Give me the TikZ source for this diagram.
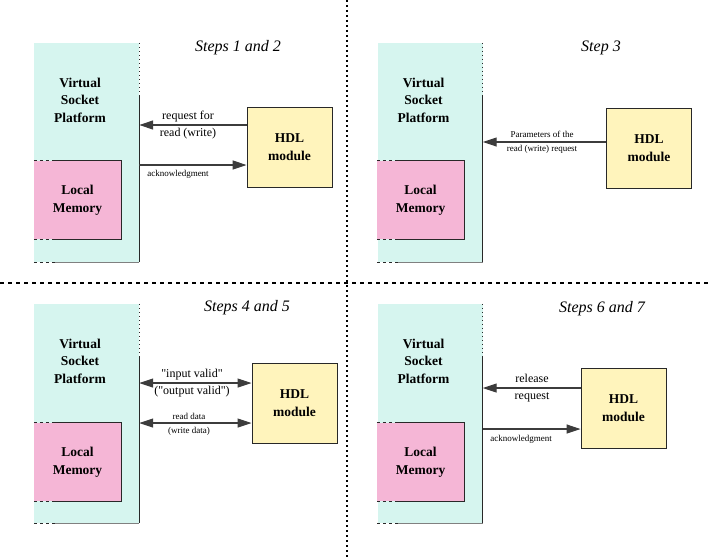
\documentclass[tikz,border=0pt]{standalone}
\usepackage{fontspec}
\setmainfont{Liberation Serif}[Ligatures=TeXOff]
\usepackage{tikz}
\usetikzlibrary{arrows.meta}

\definecolor{vspcol}{RGB}{214,245,239}
\definecolor{lmcol}{RGB}{245,182,214}
\definecolor{hdlcol}{RGB}{255,244,188}
\definecolor{edgecol}{RGB}{40,40,40}
\definecolor{sigcol}{RGB}{60,60,60}

\tikzset{
  vsp/.style={fill=vspcol, inner sep=0pt, minimum width=105pt, minimum height=219pt},
  vsptext/.style={font=\bfseries\fontsize{13.5}{17.5}\selectfont, align=center},
  lmem/.style={fill=lmcol, inner sep=0pt, minimum width=87pt, minimum height=78pt,
    font=\bfseries\fontsize{13.5}{18}\selectfont, align=center},
  hdl/.style={draw=edgecol, fill=hdlcol, line width=0.9pt, inner sep=0pt,
    minimum width=85pt, minimum height=80pt,
    font=\bfseries\fontsize{13.5}{18}\selectfont, align=center},
  title/.style={font=\itshape\fontsize{16}{19}\selectfont},
  biglab/.style={font=\fontsize{12}{17}\selectfont, align=center},
  smalllab/.style={font=\fontsize{9}{14}\selectfont, align=center},
  edge/.style={draw=edgecol, line width=0.9pt},
  sig/.style={draw=sigcol, line width=1.1pt},
  onehead/.style={-{Triangle[length=14pt,width=9pt]}},
  twohead/.style={{Triangle[length=14pt,width=9pt]}-{Triangle[length=14pt,width=9pt]}},
  divider/.style={draw=black, line width=1.5pt}
}

% open frame of the socket platform
\newcommand{\vspframe}[1]{%
  \draw[edge, dash pattern=on 1.5pt off 2.5pt] (#1.north east) -- ++(0,52);
  \draw[edge] ([yshift=-52pt]#1.north east) -- (#1.south east);
  \draw[edge, dash pattern=on 3pt off 3pt] (#1.south west) -- ++(21,0);
  \draw[draw=gray, line width=0.6pt] ([xshift=21pt]#1.south west) -- (#1.south east);
}
% open frame of the local memory
\newcommand{\lmframe}[1]{%
  \draw[edge, dash pattern=on 3pt off 3pt] (#1.north west) -- ++(21,0);
  \draw[edge, dash pattern=on 3pt off 3pt] (#1.south west) -- ++(21,0);
  \draw[edge] ([xshift=21pt]#1.north west) -- (#1.north east)
    -- (#1.south east) -- ([xshift=21pt]#1.south west);
}

\begin{document}
\begin{tikzpicture}[x=1pt, y=-1pt]
  \useasboundingbox (0,0) rectangle (708,559);

  % Steps 1 and 2
  \node[vsp] (vspA) at (86.5,152.5) {};
  \vspframe{vspA}
  \node[vsptext] (vspAtxt) at (80,100) {Virtual\\Socket\\Platform};
  \node[lmem] (lmA) at (77.5,200) {Local\\Memory};
  \lmframe{lmA}
  \node[hdl] (hdlA) at (289.5,147) {HDL\\module};
  \node[title] (titleA) at (238,48) {Steps 1 and 2};
  \draw[sig,onehead] (hdlA.west |- 0,125) -- (vspA.east |- 0,125);
  \node[biglab] (reqA) at (188,125) {request for\\read (write)};
  \draw[sig,onehead] (vspA.east |- 0,165) -- (hdlA.west |- 0,165);
  \node[smalllab] (ackA) at (178,174) {acknowledgment};

  % Step 3
  \node[vsp] (vspB) at (430,152.5) {};
  \vspframe{vspB}
  \node[vsptext] (vspBtxt) at (423.5,100) {Virtual\\Socket\\Platform};
  \node[lmem] (lmB) at (420.5,200) {Local\\Memory};
  \lmframe{lmB}
  \node[hdl] (hdlB) at (649,148) {HDL\\module};
  \node[title] (titleB) at (601,48) {Step 3};
  \draw[sig,onehead] (hdlB.west |- 0,142) -- (vspB.east |- 0,142);
  \node[smalllab] (parB) at (542,142) {Parameters of the\\read (write) request};

  % Steps 4 and 5
  \node[vsp] (vspC) at (86.5,413.5) {};
  \vspframe{vspC}
  \node[vsptext] (vspCtxt) at (80,361) {Virtual\\Socket\\Platform};
  \node[lmem] (lmC) at (77.5,462) {Local\\Memory};
  \lmframe{lmC}
  \node[hdl] (hdlC) at (294.5,403) {HDL\\module};
  \node[title] (titleC) at (247,308) {Steps 4 and 5};
  \draw[sig,twohead] (vspC.east |- 0,383) -- (hdlC.west |- 0,383);
  \node[biglab] (validC) at (192,383) {"input valid"\\("output valid")};
  \draw[sig,twohead] (vspC.east |- 0,423) -- (hdlC.west |- 0,423);
  \node[smalllab] (dataC) at (189,424) {read data\\(write data)};

  % Steps 6 and 7
  \node[vsp] (vspD) at (430,413.5) {};
  \vspframe{vspD}
  \node[vsptext] (vspDtxt) at (423.5,361) {Virtual\\Socket\\Platform};
  \node[lmem] (lmD) at (420.5,462) {Local\\Memory};
  \lmframe{lmD}
  \node[hdl] (hdlD) at (623.5,408.5) {HDL\\module};
  \node[title] (titleD) at (602,309) {Steps 6 and 7};
  \draw[sig,onehead] (hdlD.west |- 0,388) -- (vspD.east |- 0,388);
  \node[biglab] (relD) at (532,388) {release\\request};
  \draw[sig,onehead] (vspD.east |- 0,429) -- (hdlD.west |- 0,429);
  \node[smalllab] (ackD) at (521,439) {acknowledgment};

  % separators
  \coordinate (sepT) at (347,0);
  \coordinate (sepB) at (347,559);
  \coordinate (sepL) at (0,283);
  \coordinate (sepR) at (708,283);
  \draw[divider, dash pattern=on 2pt off 3pt] (sepT) -- (sepB);
  \draw[divider, dash pattern=on 4pt off 4pt] (sepL) -- (sepR);
\end{tikzpicture}
\end{document}
